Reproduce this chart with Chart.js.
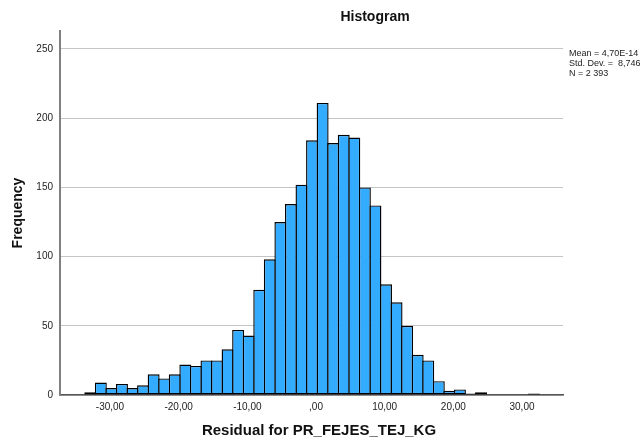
<!DOCTYPE html>
<html>
<head>
<meta charset="utf-8">
<script src="https://cdn.jsdelivr.net/npm/chart.js@4.4.1/dist/chart.umd.min.js"></script>
<style>
  body { margin: 0; background: #fff; }
  #wrap { width: 640px; height: 441px; }
</style>
</head>
<body>
<div id="wrap"><canvas id="histChart"></canvas></div>
<script>
// Histogram bins: first lower edge and bin width (residual units)
const binStart = -33.64;
const binWidth = 1.538;
// Frequency per bin
const counts = [2, 9, 5, 8, 5, 7, 15, 12, 15, 22, 21, 25, 25, 33, 47, 43, 76, 98, 125, 138,
                152, 184, 211, 182, 188, 186, 150, 137, 80, 67, 50, 29, 25, 10, 3, 4, 1, 2,
                0, 0, 0, 0, 1];
const xTicks = [-30, -20, -10, 0, 10, 20, 30];
const yTicks = [0, 50, 100, 150, 200, 250];
const statsLines = ['Mean = 4,70E-14', 'Std. Dev. =  8,746', 'N = 2 393'];
const chartTitle = 'Histogram';
const xTitle = 'Residual for PR_FEJES_TEJ_KG';

const FONT = "'Liberation Sans', Arial, sans-serif";

// bin centres for the linear x axis
const points = counts.map((c, i) => ({ x: binStart + binWidth * (i + 0.5), y: c }));

// SPSS style number: ",00" for zero, "-30,00" otherwise
function fmt(v) {
    let s = v.toFixed(2).replace('.', ',');
    if (s === '0,00') s = ',00';
    return s;
}

// title, x axis caption and the statistics box
const decorations = {
    id: 'decorations',
    afterDraw(chart) {
        const ctx = chart.ctx;
        const area = chart.chartArea;
        ctx.save();
        ctx.textBaseline = 'middle';
        ctx.fillStyle = '#111';
        ctx.textAlign = 'center';
        ctx.font = 'bold 14px ' + FONT;
        ctx.fillText(chartTitle, 375, 17.5);
        ctx.font = 'bold 15px ' + FONT;
        ctx.fillText(xTitle, 319, 431);

        ctx.font = '9px ' + FONT;
        ctx.fillStyle = '#222';
        ctx.textAlign = 'left';
        statsLines.forEach((t, i) => ctx.fillText(t, area.right + 6, 53.5 + i * 10));
        ctx.restore();
    }
};

const ctx = document.getElementById('histChart').getContext('2d');
new Chart(ctx, {
    type: 'bar',
    data: {
        datasets: [{
            data: points,
            backgroundColor: '#33abff',
            borderColor: '#000',
            borderWidth: 1.4,
            borderSkipped: false,
            inflateAmount: 0,
            // bars overlap by one border width so neighbours share an outline
            barPercentage: 1.133,
            categoryPercentage: 1
        }]
    },
    options: {
        responsive: true,
        maintainAspectRatio: false,
        animation: false,
        layout: { padding: { top: 31, right: 77, bottom: 0, left: 0 } },
        plugins: {
            legend: { display: false },
            tooltip: { enabled: false },
            title: { display: false }
        },
        scales: {
            x: {
                type: 'linear',
                offset: false,
                min: -37.28,
                max: 35.97,
                grid: { display: false, drawTicks: false },
                border: { display: true, color: '#555', width: 1.5 },
                afterBuildTicks: s => { s.ticks = xTicks.map(v => ({ value: v })); },
                afterFit: s => { s.height = 46; },
                ticks: {
                    callback: v => fmt(v),
                    color: '#222',
                    padding: 6,
                    maxRotation: 0,
                    font: { family: FONT, size: 10 }
                }
            },
            y: {
                min: 0,
                max: 263,
                grid: { color: '#c4c4c4', lineWidth: 1, drawTicks: false },
                border: { display: true, color: '#808080', width: 2 },
                afterBuildTicks: s => { s.ticks = yTicks.map(v => ({ value: v })); },
                afterFit: s => { s.width = 60; },
                ticks: {
                    color: '#222',
                    padding: 7,
                    font: { family: FONT, size: 10 }
                },
                title: {
                    display: true,
                    text: 'Frequency',
                    color: '#111',
                    font: { family: FONT, size: 14, weight: 'bold' },
                    padding: { top: 10, bottom: 0 }
                }
            }
        }
    },
    plugins: [decorations]
});
</script>
</body>
</html>
